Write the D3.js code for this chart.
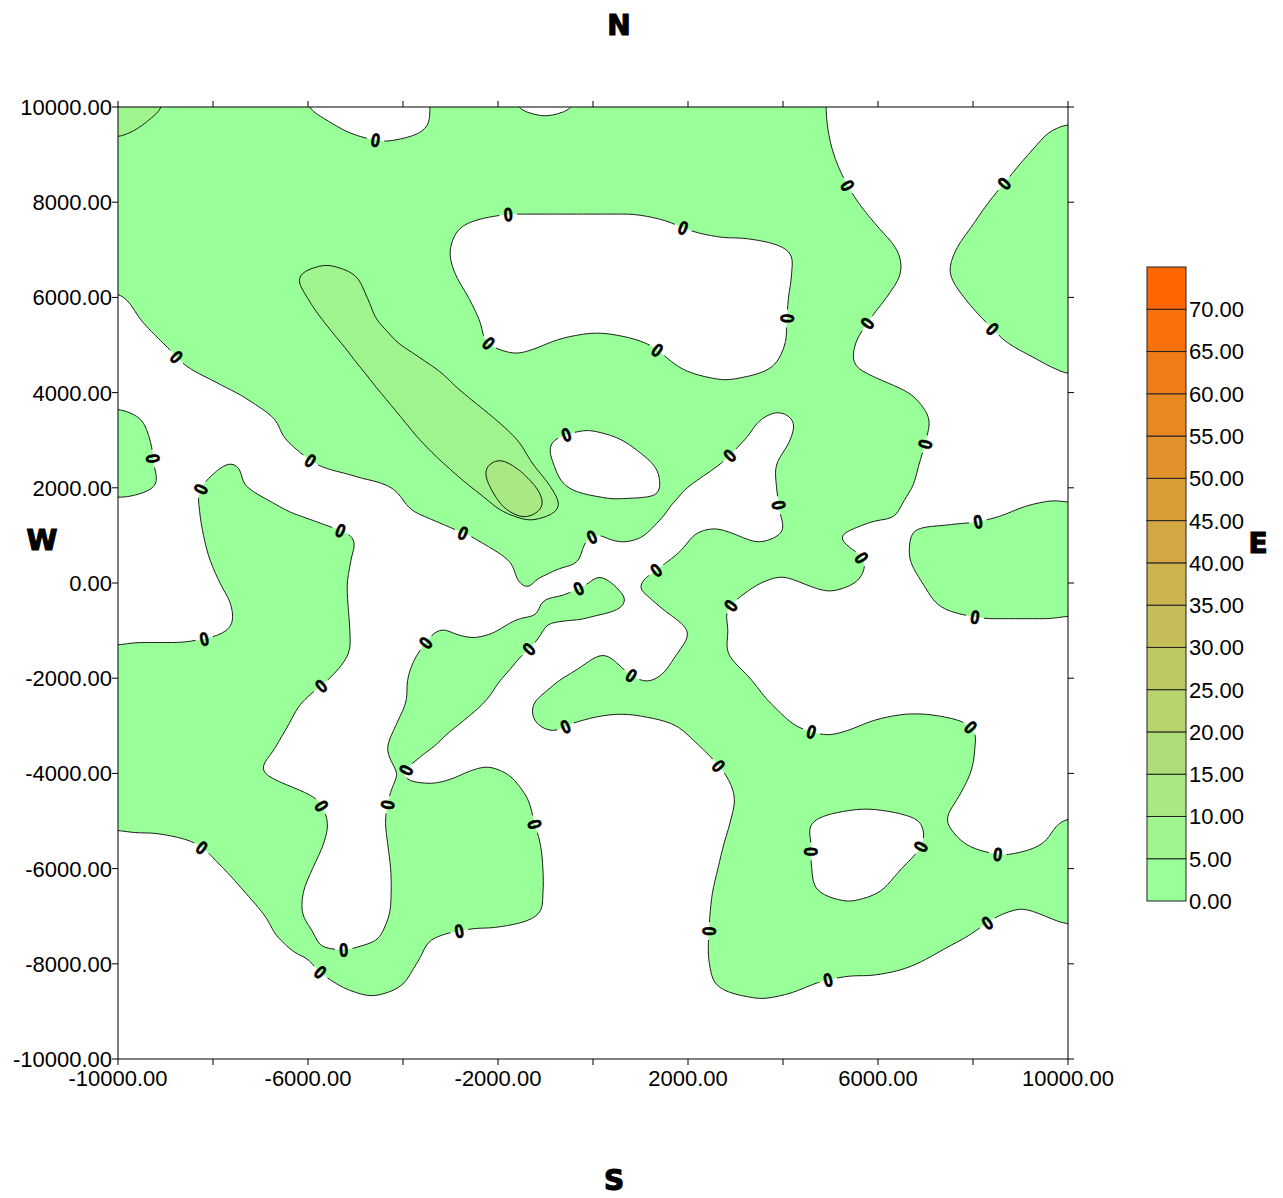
<!DOCTYPE html>
<html><head><meta charset="utf-8">
<script src="https://cdn.jsdelivr.net/npm/d3@7"></script>
<style>body{margin:0;background:#fff}</style>
</head><body>
<svg id="chart" width="1283" height="1198"></svg>
<script>
// ---------------- data ----------------
// Survey grid: rows every 500 m from north (y = 10000) to south (y = -10000).
// For every row, the x-spans where the mapped value is >= the isoline level
// (read from the contour map; spans touching the border run past it).
const xDomain = [-10000, 10000];
const yDomain = [-10000, 10000];
const rowStep = 500;
const spansLevel0 = [
  [[-10600,-6020],[-3430,-1640],[-380,4905]],
  [[-10600,-5220],[-3560,4950],[9640,10600]],
  [[-10600,5070],[9160,10600]],
  [[-10600,5280],[8740,10600]],
  [[-10600,5580],[8330,10600]],
  [[-10600,-2760],[1810,5980],[7980,10600]],
  [[-10600,-3010],[4105,6400],[7640,10600]],
  [[-10600,-2905],[4180,6475],[7515,10600]],
  [[-9860,-2620],[4115,6180],[7810,10600]],
  [[-9500,-2380],[4075,5800],[8250,10600]],
  [[-9010,-2190],[-1030,1200],[4040,5515],[8780,10600]],
  [[-8495,1865],[3740,5575],[9725,10600]],
  [[-7505,6655]],
  [[-10600,-9575],[-6745,3610],[4160,7065]],
  [[-10600,-9325],[-6465,-840],[625,3190],[4150,7010]],
  [[-10600,-9250],[-7735,-7515],[-5845,-830],[1270,2685],[3860,6865]],
  [[-10600,-9240],[-8265,-7285],[-4225,-540],[1410,1980],[3865,6720]],
  [[-8280,-6395],[-3785,1570],[3930,6420],[8815,10600]],
  [[-8200,-5080],[-2610,-35],[200,1075],[2120,3035],[3945,5200],[6700,10600]],
  [[-8070,-5095],[-1785,-290],[1645,5710],[6670,10600]],
  [[-7855,-5175],[-1560,-1265],[-60,405],[990,3515],[4405,5530],[6935,10600]],
  [[-7610,-5155],[-1125,640],[1405,2855],[7305,10600]],
  [[-7690,-5120],[-3285,-3035],[-2030,-1035],[2000,2845]],
  [[-10600,-5150],[-3700,-1475],[150,275],[1760,2850]],
  [[-10600,-5540],[-3900,-1920],[-640,880],[1370,3310]],
  [[-10600,-6125],[-3935,-2275],[-1240,3710]],
  [[-10600,-6420],[-4155,-2855],[-1150,-535],[1765,4260],[5615,7960]],
  [[-10600,-6710],[-4335,-3425],[2325,8035]],
  [[-10600,-6940],[-4150,-3980],[-2700,-1805],[2775,7945]],
  [[-10600,-5855],[-4295,-1390],[2980,7695]],
  [[-10600,-5590],[-4370,-1245],[2895,4630],[6870,7445],[9870,10600]],
  [[-8295,-5680],[-4320,-1105],[2750,4595],[6930,7855],[9440,10600]],
  [[-7775,-5905],[-4260,-1055],[2630,4605],[6495,10600]],
  [[-7325,-6100],[-4250,-1055],[2515,4760],[6030,10600]],
  [[-6900,-6105],[-4295,-1175],[2460,8520],[9520,10600]],
  [[-6590,-5810],[-4545,-3425],[2430,7755]],
  [[-5935,-3715],[2450,6820]],
  [[-5255,-4075],[2645,4465]],
  [], [], []
];
// level 5 and level 10 spans: {row index, spans}
const spansLevel5 = [
  {row:0, s:[[-10600,-9055]]}, {row:1, s:[[-10600,-9655]]},
  {row:7, s:[[-6160,-5040]]}, {row:8, s:[[-6015,-4755]]}, {row:9, s:[[-5675,-4535]]},
  {row:10, s:[[-5265,-4055]]}, {row:11, s:[[-4870,-3295]]}, {row:12, s:[[-4470,-2745]]},
  {row:13, s:[[-4055,-2125]]}, {row:14, s:[[-3640,-1585]]}, {row:15, s:[[-3135,-1270]]},
  {row:16, s:[[-2550,-880]]}, {row:17, s:[[-1900,-760]]}
];
const spansLevel10 = [
  {row:15, s:[[-2200,-1725]]}, {row:16, s:[[-2160,-1185]]}, {row:17, s:[[-1775,-1125]]}
];
const contourLevels = [0, 5, 10];
const legendLevels = [0,5,10,15,20,25,30,35,40,45,50,55,60,65,70,75];
const yTickValues = [-10000,-8000,-6000,-4000,-2000,0,2000,4000,6000,8000,10000];
const xTickValues = [-10000,-8000,-6000,-4000,-2000,0,2000,4000,6000,8000,10000];
const xLabelValues = [-10000,-6000,-2000,2000,6000,10000];
const compass = [{t:"N",pos:"top"},{t:"S",pos:"bottom"},{t:"W",pos:"left"},{t:"E",pos:"right"}];
const colorLow = "#99ff99", colorHigh = "#ff6600";

// ---------------- layout ----------------
const svg = d3.select("#chart");
const plot = {left:118, right:1068, top:107, bottom:1059};
const x = d3.scaleLinear().domain(xDomain).range([plot.left, plot.right]);
const y = d3.scaleLinear().domain(yDomain).range([plot.bottom, plot.top]);
const nBands = legendLevels.length - 1;
const bandColor = i => d3.interpolateRgb(colorLow, colorHigh)(i / (nBands - 1));
const FONT = "'Liberation Sans', Arial, sans-serif";

// ---------------- build fields ----------------
const nRows = spansLevel0.length;
const FS = 50;                                  // fine sampling step (data units)
const NX = Math.round((xDomain[1] - xDomain[0]) / FS) + 1;
const NY = Math.round((yDomain[1] - yDomain[0]) / FS) + 1;
const CL = 1000;                                // clamp of signed distance
function rowDist(spans, X) {
  if (!spans.length) return -CL;
  let m = Infinity;
  for (const [a, b] of spans) {
    if (X >= a && X <= b) return Math.min(CL, X - a, b - X);
    m = Math.min(m, Math.abs(X - a), Math.abs(X - b));
  }
  return -Math.min(CL, m);
}
const cr = (p0,p1,p2,p3,t) => 0.5*((2*p1)+(-p0+p2)*t+(2*p0-5*p1+4*p2-p3)*t*t+(-p0+3*p1-3*p2+p3)*t*t*t);
function boxBlur(a, nx, ny, rad) {
  const tmp = new Float64Array(nx * ny);
  const cx = v => Math.max(0, Math.min(nx - 1, v)), cy = v => Math.max(0, Math.min(ny - 1, v));
  for (let j = 0; j < ny; j++) for (let i = 0; i < nx; i++) {
    let s = 0; for (let k = -rad; k <= rad; k++) s += a[j * nx + cx(i + k)];
    tmp[j * nx + i] = s / (2 * rad + 1);
  }
  for (let j = 0; j < ny; j++) for (let i = 0; i < nx; i++) {
    let s = 0; for (let k = -rad; k <= rad; k++) s += tmp[cy(j + k) * nx + i];
    a[j * nx + i] = s / (2 * rad + 1);
  }
}
function buildField(rowsSpans) {
  const rd = rowsSpans.map(sp => { const r = new Float64Array(NX); for (let i = 0; i < NX; i++) r[i] = rowDist(sp, xDomain[0] + i * FS); return r; });
  const f = new Float64Array(NX * NY);
  const rowAt = k => rd[Math.max(0, Math.min(nRows - 1, k))];
  for (let j = 0; j < NY; j++) {
    const t = (j * FS) / rowStep;
    let r = Math.floor(t), fr = t - r;
    if (r >= nRows - 1) { r = nRows - 2; fr = 1; }
    const r0 = rowAt(r - 1), r1 = rowAt(r), r2 = rowAt(r + 1), r3 = rowAt(r + 2);
    for (let i = 0; i < NX; i++) f[j * NX + i] = cr(r0[i], r1[i], r2[i], r3[i], fr);
  }
  boxBlur(f, NX, NY, 2); boxBlur(f, NX, NY, 2);
  return f;
}
const expand = list => { const a = Array.from({length: nRows}, () => []); list.forEach(d => a[d.row] = d.s); return a; };
const fieldRows = [spansLevel0, expand(spansLevel5), expand(spansLevel10)];
const contourGen = d3.contours().size([NX, NY]).thresholds([0]);
const levelShapes = fieldRows.map((rows, k) => {
  const g = contourGen(Array.from(buildField(rows)))[0];
  g.level = contourLevels[k];
  return g;
});
const toPx = p => [x(xDomain[0] + (p[0] - 0.5) * FS), y(yDomain[1] - (p[1] - 0.5) * FS)];
const pathFor = mp => mp.coordinates.map(poly => poly.map(ring =>
  "M" + ring.map(p => toPx(p).map(v => v.toFixed(2)).join(",")).join("L") + "Z").join("")).join("");

// ---------------- defs ----------------
const defs = svg.append("defs");
defs.append("clipPath").attr("id", "plotClip").append("rect")
  .attr("x", plot.left).attr("y", plot.top)
  .attr("width", plot.right - plot.left).attr("height", plot.bottom - plot.top);

// ---------------- labels along the 0 isoline ----------------
const labels = [];
const labelSpacing = 165;
const onBorder = p => p[0] <= 0.001 || p[0] >= NX - 0.001 || p[1] <= 0.001 || p[1] >= NY - 0.001;
levelShapes[0].coordinates.forEach(poly => poly.forEach(ring => {
  const pts = ring.slice(0, ring.length - 1);
  const start = pts.findIndex(onBorder);
  const runs = [];
  if (start < 0) runs.push(pts.concat([pts[0]]).map(toPx));
  else {
    let cur = [];
    for (let k = 0; k <= pts.length; k++) {
      const p = pts[(start + k) % pts.length];
      if (onBorder(p)) { if (cur.length > 1) runs.push(cur); cur = []; }
      else cur.push(toPx(p));
    }
    if (cur.length > 1) runs.push(cur);
  }
  runs.forEach(run => {
    const cum = [0];
    for (let k = 1; k < run.length; k++) cum.push(cum[k-1] + Math.hypot(run[k][0]-run[k-1][0], run[k][1]-run[k-1][1]));
    const L = cum[cum.length - 1];
    if (L < 45) return;
    const n = Math.max(1, Math.floor(L / labelSpacing));
    const at = s => {
      let k = d3.bisectLeft(cum, s); k = Math.max(1, Math.min(run.length - 1, k));
      const t = (s - cum[k-1]) / ((cum[k] - cum[k-1]) || 1);
      return [run[k-1][0] + t*(run[k][0]-run[k-1][0]), run[k-1][1] + t*(run[k][1]-run[k-1][1])];
    };
    for (let m = 0; m < n; m++) {
      const s = (m + 0.5) * L / n;
      const p = at(s), a = at(Math.max(0, s - 7)), b = at(Math.min(L, s + 7));
      if (p[0] < plot.left + 8 || p[0] > plot.right - 8 || p[1] < plot.top + 10 || p[1] > plot.bottom - 8) continue;
      let ang = Math.atan2(b[1]-a[1], b[0]-a[0]) * 180 / Math.PI;
      if (ang > 90) ang -= 180; if (ang < -90) ang += 180;
      labels.push({x: p[0], y: p[1], a: ang});
    }
  });
}));

const mask = defs.append("mask").attr("id", "lblMask").attr("maskUnits", "userSpaceOnUse")
  .attr("x", 0).attr("y", 0).attr("width", 1283).attr("height", 1198);
mask.append("rect").attr("width", 1283).attr("height", 1198).attr("fill", "white");
mask.selectAll("ellipse").data(labels).join("ellipse")
  .attr("cx", 0).attr("cy", 0).attr("rx", 9).attr("ry", 7).attr("fill", "black")
  .attr("transform", d => `translate(${d.x},${d.y}) rotate(${d.a})`);

// ---------------- fills & lines ----------------
const gPlot = svg.append("g").attr("clip-path", "url(#plotClip)");
gPlot.selectAll("path.fill").data(levelShapes).join("path").attr("class", "fill")
  .attr("d", pathFor).attr("fill-rule", "evenodd")
  .attr("fill", d => bandColor(legendLevels.indexOf(d.level)));
gPlot.append("g").attr("mask", "url(#lblMask)")
  .selectAll("path").data(levelShapes).join("path")
  .attr("d", pathFor).attr("fill", "none").attr("stroke", "#000").attr("stroke-width", 0.9);
gPlot.selectAll("text.lbl").data(labels).join("text").attr("class", "lbl")
  .attr("transform", d => `translate(${d.x},${d.y}) rotate(${d.a}) scale(0.85,1)`)
  .attr("text-anchor", "middle").attr("dy", "0.36em")
  .attr("stroke", "#000").attr("stroke-width", 0.7)
  .style("font", `bold 19px ${FONT}`).text("0");

// ---------------- frame & axes ----------------
svg.append("rect").attr("x", plot.left).attr("y", plot.top)
  .attr("width", plot.right - plot.left).attr("height", plot.bottom - plot.top)
  .attr("fill", "none").attr("stroke", "#000").attr("stroke-width", 1);
const tk = 6;
const ticks = svg.append("g").attr("stroke", "#000").attr("stroke-width", 1);
xTickValues.forEach(v => {
  ticks.append("line").attr("x1", x(v)).attr("x2", x(v)).attr("y1", plot.top).attr("y2", plot.top - tk);
  ticks.append("line").attr("x1", x(v)).attr("x2", x(v)).attr("y1", plot.bottom).attr("y2", plot.bottom + tk);
});
yTickValues.forEach(v => {
  ticks.append("line").attr("y1", y(v)).attr("y2", y(v)).attr("x1", plot.left).attr("x2", plot.left - tk);
  ticks.append("line").attr("y1", y(v)).attr("y2", y(v)).attr("x1", plot.right).attr("x2", plot.right + tk);
});
svg.append("g").selectAll("text").data(yTickValues).join("text")
  .attr("x", plot.left - 6).attr("y", d => y(d)).attr("dy", "0.36em")
  .attr("text-anchor", "end").style("font", `22px ${FONT}`).text(d => d.toFixed(2));
svg.append("g").selectAll("text").data(xLabelValues).join("text")
  .attr("x", d => x(d)).attr("y", plot.bottom + 19).attr("dy", "0.36em")
  .attr("text-anchor", "middle").style("font", `22px ${FONT}`).text(d => d.toFixed(2));

// ---------------- legend ----------------
const leg = {x: 1147, w: 39, top: 267, bottom: 901};
const ly = d3.scaleLinear().domain([legendLevels[0], legendLevels[legendLevels.length-1]]).range([leg.bottom, leg.top]);
const gLeg = svg.append("g");
gLeg.selectAll("rect").data(d3.range(nBands)).join("rect")
  .attr("x", leg.x).attr("width", leg.w)
  .attr("y", i => ly(legendLevels[i+1])).attr("height", i => ly(legendLevels[i]) - ly(legendLevels[i+1]))
  .attr("fill", i => bandColor(i)).attr("stroke", "#222").attr("stroke-width", 1);
gLeg.selectAll("text").data(legendLevels.slice(0, -1)).join("text")
  .attr("x", leg.x + leg.w + 3).attr("y", d => ly(d)).attr("dy", "0.36em")
  .style("font", `22px ${FONT}`).text(d => d.toFixed(2));

// ---------------- compass letters ----------------
const cpos = {top:[619, 25], bottom:[614, 1180], left:[42, 540], right:[1258, 543]};
svg.append("g").selectAll("text").data(compass).join("text")
  .attr("x", d => cpos[d.pos][0]).attr("y", d => cpos[d.pos][1]).attr("dy", "0.36em")
  .attr("text-anchor", "middle").attr("stroke", "#000").attr("stroke-width", 1.2)
  .style("font", "900 28px 'DejaVu Sans', sans-serif").text(d => d.t);
</script>
</body></html>
